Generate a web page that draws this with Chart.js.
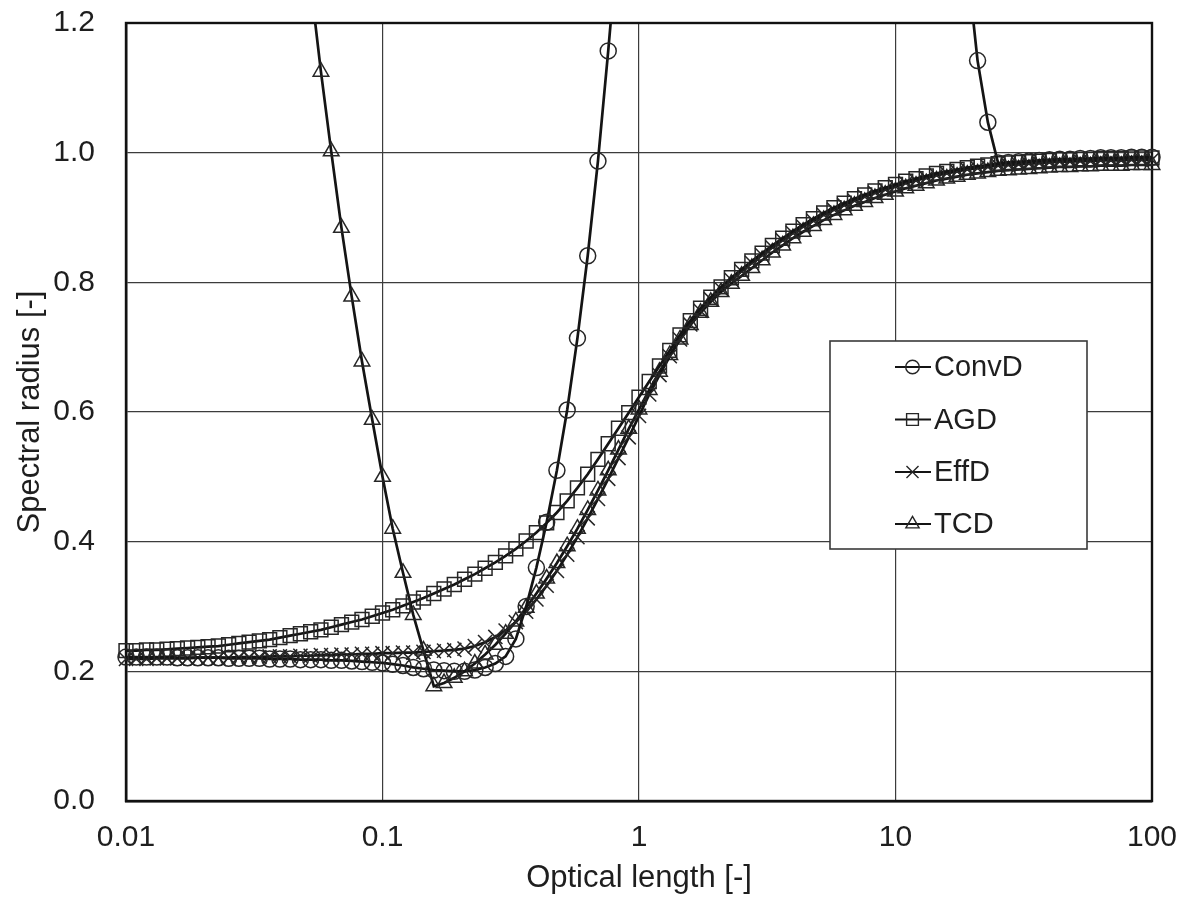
<!DOCTYPE html>
<html>
<head>
<meta charset="utf-8">
<script src="https://cdn.jsdelivr.net/npm/chart.js@4.4.1/dist/chart.umd.min.js"></script>
<style>
  html, body { margin: 0; padding: 0; background: #ffffff; }
  #wrap { width: 1190px; height: 902px; }
</style>
</head>
<body>
<div id="wrap"><canvas id="c" width="1190" height="902"></canvas></div>
<script>
// ---------------- data ----------------
const opticalLength = [
  0.01, 0.01096, 0.01202, 0.01318, 0.01445, 0.01585, 0.01738, 0.01905, 0.02089, 0.02291,
  0.02512, 0.02754, 0.0302, 0.03311, 0.03631, 0.03981, 0.04365, 0.04786, 0.05248, 0.05754,
  0.0631, 0.06918, 0.07586, 0.08318, 0.0912, 0.1, 0.1096, 0.1202, 0.1318, 0.1445,
  0.1585, 0.1738, 0.1905, 0.2089, 0.2291, 0.2512, 0.2754, 0.302, 0.3311, 0.3631,
  0.3981, 0.4365, 0.4786, 0.5248, 0.5754, 0.631, 0.6918, 0.7586, 0.8318, 0.912,
  1, 1.096, 1.202, 1.318, 1.445, 1.585, 1.738, 1.905, 2.089, 2.291,
  2.512, 2.754, 3.02, 3.311, 3.631, 3.981, 4.365, 4.786, 5.248, 5.754,
  6.31, 6.918, 7.586, 8.318, 9.12, 10, 10.96, 12.02, 13.18, 14.45,
  15.85, 17.38, 19.05, 20.89, 22.91, 25.12, 27.54, 30.2, 33.11, 36.31,
  39.81, 43.65, 47.86, 52.48, 57.54, 63.1, 69.18, 75.86, 83.18, 91.2,
  100
];

const convD = [
  0.222, 0.222, 0.222, 0.222, 0.222, 0.221, 0.221, 0.221, 0.221, 0.221,
  0.220, 0.220, 0.220, 0.220, 0.219, 0.219, 0.219, 0.218, 0.218, 0.218,
  0.217, 0.217, 0.216, 0.215, 0.214, 0.213, 0.211, 0.209, 0.206, 0.204,
  0.202, 0.201, 0.200, 0.200, 0.202, 0.206, 0.212, 0.223, 0.250, 0.300,
  0.360, 0.430, 0.510, 0.603, 0.714, 0.841, 0.987, 1.157, 1.340, null,
  null, null, null, null, null, null, null, null, null, null,
  null, null, null, null, null, null, null, null, null, null,
  null, null, null, null, null, null, null, null, null, null,
  null, null, 1.290, 1.142, 1.047, 0.984, 0.985, 0.986, 0.987, 0.988,
  0.989, 0.990, 0.990, 0.991, 0.991, 0.992, 0.992, 0.992, 0.993, 0.993,
  0.993
];

const agd = [
  0.232, 0.232, 0.233, 0.233, 0.234, 0.235, 0.236, 0.237, 0.238, 0.239,
  0.241, 0.243, 0.245, 0.247, 0.249, 0.252, 0.255, 0.258, 0.261, 0.264,
  0.268, 0.272, 0.276, 0.280, 0.285, 0.290, 0.295, 0.301, 0.307, 0.313,
  0.320, 0.327, 0.334, 0.342, 0.350, 0.359, 0.368, 0.378, 0.389, 0.401,
  0.414, 0.429, 0.445, 0.463, 0.483, 0.504, 0.527, 0.551, 0.575, 0.599,
  0.623, 0.647, 0.671, 0.695, 0.719, 0.741, 0.760, 0.777, 0.793, 0.807,
  0.820, 0.833, 0.845, 0.857, 0.868, 0.879, 0.889, 0.898, 0.907, 0.915,
  0.922, 0.929, 0.935, 0.941, 0.946, 0.951, 0.956, 0.960, 0.964, 0.968,
  0.971, 0.974, 0.977, 0.979, 0.981, 0.983, 0.984, 0.985, 0.986, 0.987,
  0.988, 0.989, 0.989, 0.990, 0.990, 0.991, 0.991, 0.991, 0.992, 0.992,
  0.992
];

const effD = [
  0.219, 0.219, 0.219, 0.220, 0.220, 0.220, 0.220, 0.221, 0.221, 0.221,
  0.221, 0.222, 0.222, 0.222, 0.223, 0.223, 0.223, 0.224, 0.224, 0.225,
  0.225, 0.226, 0.226, 0.227, 0.227, 0.228, 0.228, 0.229, 0.229, 0.230,
  0.231, 0.232, 0.233, 0.235, 0.239, 0.245, 0.253, 0.263, 0.276, 0.292,
  0.311, 0.332, 0.355, 0.380, 0.407, 0.436, 0.466, 0.497, 0.529, 0.561,
  0.594, 0.627, 0.657, 0.686, 0.712, 0.735, 0.756, 0.774, 0.790, 0.804,
  0.817, 0.830, 0.842, 0.854, 0.865, 0.876, 0.886, 0.895, 0.904, 0.912,
  0.919, 0.926, 0.932, 0.938, 0.943, 0.948, 0.953, 0.957, 0.961, 0.965,
  0.968, 0.971, 0.974, 0.976, 0.978, 0.980, 0.981, 0.982, 0.983, 0.984,
  0.985, 0.986, 0.986, 0.987, 0.987, 0.988, 0.988, 0.988, 0.989, 0.989,
  0.989
];

const tcd = [
  null, null, null, null, null, null, null, null, null, null,
  null, null, null, null, null, null, null, null, 1.260, 1.125,
  1.002, 0.884, 0.778, 0.678, 0.588, 0.500, 0.420, 0.352, 0.287, 0.232,
  0.177, 0.182, 0.190, 0.200, 0.212, 0.226, 0.241, 0.258, 0.277, 0.298,
  0.320, 0.343, 0.367, 0.393, 0.420, 0.449, 0.479, 0.510, 0.542, 0.574,
  0.604, 0.634, 0.662, 0.688, 0.712, 0.734, 0.753, 0.770, 0.785, 0.798,
  0.810, 0.822, 0.834, 0.846, 0.857, 0.868, 0.878, 0.887, 0.896, 0.904,
  0.911, 0.918, 0.924, 0.930, 0.935, 0.940, 0.945, 0.949, 0.953, 0.957,
  0.960, 0.963, 0.966, 0.968, 0.970, 0.972, 0.973, 0.974, 0.975, 0.976,
  0.977, 0.978, 0.978, 0.979, 0.979, 0.980, 0.980, 0.980, 0.981, 0.981,
  0.981
];

const seriesNames = ['ConvD', 'AGD', 'EffD', 'TCD'];
const xTickValues = [0.01, 0.1, 1, 10, 100];
const xTickLabels = ['0.01', '0.1', '1', '10', '100'];
const yTickLabels = ['0.0', '0.2', '0.4', '0.6', '0.8', '1.0', '1.2'];

// ---------------- styles ----------------
const FONT = "'Liberation Sans', Arial, Helvetica, sans-serif";
const TEXT = '#1e1e1e';
const LINE = '#141414';
const MARK = '#262626';
const styles = [
  { pointStyle: 'circle',   radius: 8 },
  { pointStyle: 'rect',     radius: 9.8 },
  { pointStyle: 'crossRot', radius: 10 },
  { pointStyle: 'triangle', radius: 9 }
];
const values = [convD, agd, effD, tcd];

const datasets = values.map((vals, k) => ({
  label: seriesNames[k],
  data: opticalLength.map((x, i) => ({ x: x, y: vals[i] })),
  borderColor: LINE,
  borderWidth: 2.7,
  tension: 0,
  fill: false,
  spanGaps: false,
  pointStyle: styles[k].pointStyle,
  pointRadius: styles[k].radius,
  pointBorderColor: MARK,
  pointBorderWidth: 1.5,
  pointBackgroundColor: 'rgba(0,0,0,0)',
  clip: { left: 20, right: 20, top: 0, bottom: 0 }
}));

function drawMarker(ctx, style, r, x, y) {
  ctx.beginPath();
  if (style === 'circle') {
    ctx.arc(x, y, r, 0, Math.PI * 2);
  } else if (style === 'rect') {
    const s = r * Math.SQRT1_2;
    ctx.rect(x - s, y - s, 2 * s, 2 * s);
  } else if (style === 'crossRot') {
    const s = r * Math.SQRT1_2;
    ctx.moveTo(x - s, y - s); ctx.lineTo(x + s, y + s);
    ctx.moveTo(x + s, y - s); ctx.lineTo(x - s, y + s);
  } else if (style === 'triangle') {
    let a = 0;
    ctx.moveTo(x + Math.sin(a) * r, y - Math.cos(a) * r);
    a += 2 * Math.PI / 3;
    ctx.lineTo(x + Math.sin(a) * r, y - Math.cos(a) * r);
    a += 2 * Math.PI / 3;
    ctx.lineTo(x + Math.sin(a) * r, y - Math.cos(a) * r);
    ctx.closePath();
  }
  ctx.stroke();
}

const framePlugin = {
  id: 'frame',
  beforeDatasetsDraw(chart) {
    const { ctx, chartArea: a } = chart;
    ctx.save();
    ctx.strokeStyle = '#111';
    ctx.lineWidth = 2.4;
    ctx.strokeRect(a.left, a.top, a.right - a.left, a.bottom - a.top);
    ctx.restore();
  }
};

const legendPlugin = {
  id: 'boxLegend',
  afterDraw(chart) {
    const ctx = chart.ctx;
    const box = { x: 830, y: 341, w: 257, h: 208 };
    ctx.save();
    ctx.fillStyle = '#ffffff';
    ctx.fillRect(box.x, box.y, box.w, box.h);
    ctx.strokeStyle = '#3a3a3a';
    ctx.lineWidth = 1.6;
    ctx.strokeRect(box.x, box.y, box.w, box.h);
    const rows = [367, 419.5, 472, 524];
    ctx.font = "29px " + FONT;
    ctx.textBaseline = 'middle';
    ctx.textAlign = 'left';
    seriesNames.forEach((name, k) => {
      const y = rows[k];
      ctx.strokeStyle = LINE;
      ctx.lineWidth = 2.2;
      ctx.beginPath();
      ctx.moveTo(895, y); ctx.lineTo(931, y);
      ctx.stroke();
      ctx.strokeStyle = MARK;
      ctx.lineWidth = 1.4;
      drawMarker(ctx, styles[k].pointStyle, styles[k].radius * 0.85, 912.5, y);
      ctx.fillStyle = TEXT;
      ctx.fillText(name, 934, y + 1);
    });
    ctx.restore();
  }
};

const tickFont = { family: FONT, size: 30 };

new Chart(document.getElementById('c'), {
  type: 'line',
  data: { datasets: datasets },
  plugins: [framePlugin, legendPlugin],
  options: {
    responsive: false,
    animation: false,
    events: [],
    layout: { padding: { top: 23, right: 38, left: 0, bottom: 0 } },
    plugins: {
      legend: { display: false },
      tooltip: { enabled: false }
    },
    scales: {
      x: {
        type: 'logarithmic',
        min: 0.01,
        max: 100,
        afterBuildTicks: (s) => { s.ticks = xTickValues.map(v => ({ value: v })); },
        afterFit: (s) => { s.height = 101; s.paddingLeft = 0; s.paddingRight = 0; },
        ticks: {
          callback: (v, i) => xTickLabels[i],
          font: tickFont,
          color: TEXT,
          padding: 19,
          maxRotation: 0,
          autoSkip: false
        },
        grid: { color: '#3c3c3c', lineWidth: 1.2, drawTicks: false },
        border: { display: true, color: '#111', width: 2.4 },
        title: {
          display: true,
          text: 'Optical length [-]',
          font: { family: FONT, size: 31 },
          color: TEXT,
          padding: { top: 0, bottom: 5 }
        }
      },
      y: {
        type: 'linear',
        min: 0,
        max: 1.2,
        afterFit: (s) => { s.width = 126; s.paddingTop = 0; s.paddingBottom = 0; },
        ticks: {
          stepSize: 0.2,
          callback: (v, i) => yTickLabels[i],
          font: tickFont,
          color: TEXT,
          padding: 31
        },
        grid: { color: '#3c3c3c', lineWidth: 1.2, drawTicks: false },
        border: { display: true, color: '#111', width: 2.4 },
        title: {
          display: true,
          text: 'Spectral radius [-]',
          font: { family: FONT, size: 31 },
          color: TEXT,
          padding: { top: 12, bottom: 0 }
        }
      }
    }
  }
});
</script>
</body>
</html>
